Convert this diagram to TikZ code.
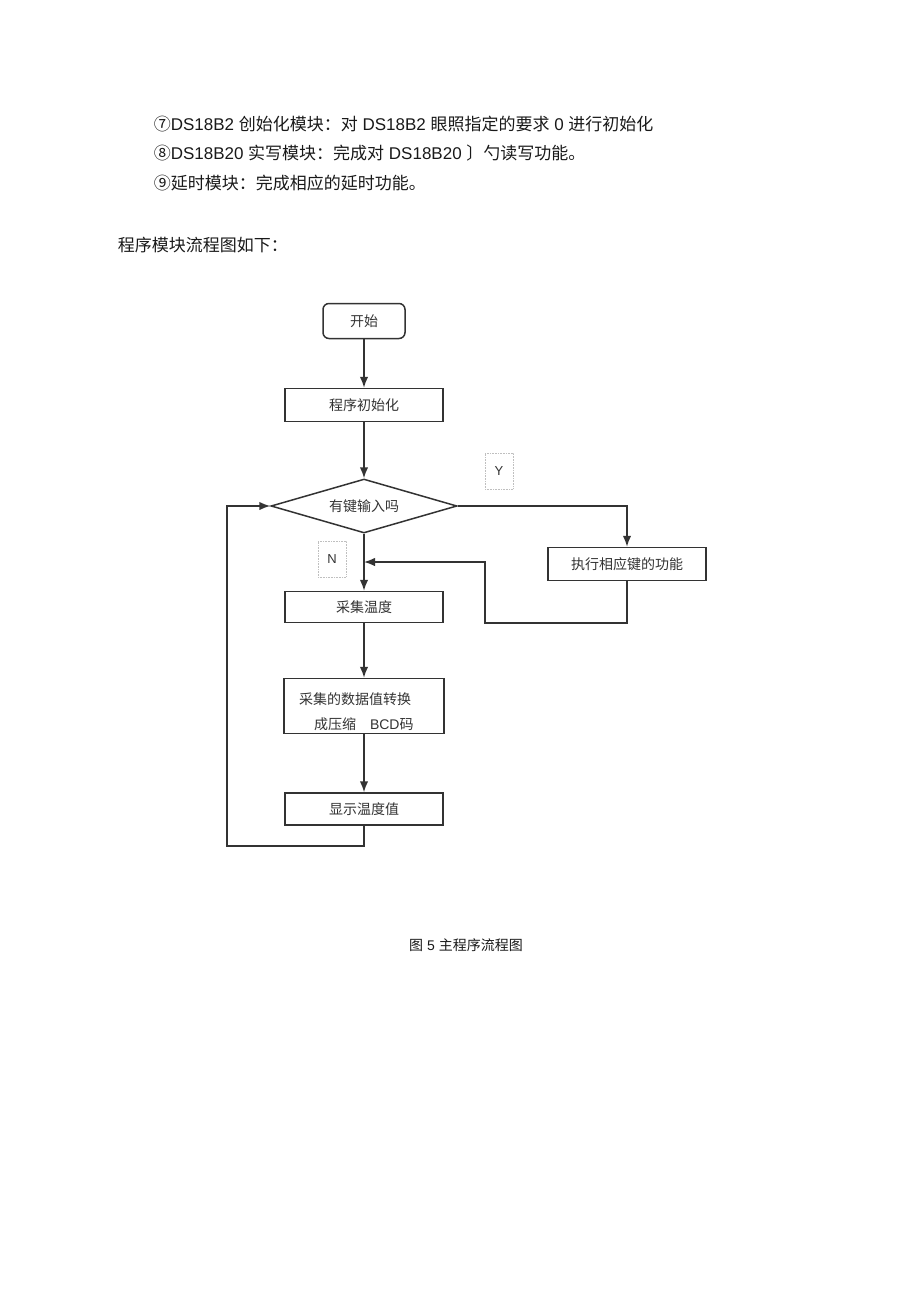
\documentclass[tikz,border=0pt]{standalone}
\usepackage{fontspec}
\setmainfont{Liberation Sans}
\newfontfamily\cjk{Noto Sans CJK SC}
\usetikzlibrary{shapes.geometric,arrows.meta}

\begin{document}
\begin{tikzpicture}[x=1pt,y=-1pt,->,>={Latex[length=11pt,width=8.5pt]},
		line width=1.5pt,color=black!80,
		main node/.style={rectangle,draw,minimum width=158pt,minimum height=33pt,inner sep=0pt,font=\fontsize{14}{16}\selectfont\cjk},
		start node/.style={main node,rounded corners=6pt,minimum width=82pt,minimum height=35pt},
		decision node/.style={diamond,draw,aspect=3.4,minimum width=186pt,minimum height=54pt,inner sep=0pt,font=\fontsize{14}{16}\selectfont\cjk},
		label node/.style={draw=black!25,densely dotted,line width=0.6pt,minimum width=28pt,minimum height=36pt,inner sep=0pt,font=\fontsize{13}{15}\selectfont},
		body text/.style={anchor=west,inner sep=0pt,text=black!90,font=\fontsize{17}{20}\selectfont}]

		\useasboundingbox (0,0) rectangle (920,1303);

		\node[body text] (l7) at (153,124) {{\cjk ⑦}DS18B2 {\cjk 创始化模块：对} DS18B2 {\cjk 眼照指定的要求} 0 {\cjk 进行初始化}};
		\node[body text] (l8) at (153,153) {{\cjk ⑧}DS18B20 {\cjk 实写模块：完成对} DS18B20 {\cjk 〕勺读写功能。}};
		\node[body text] (l9) at (153,183) {\cjk ⑨延时模块：完成相应的延时功能。};
		\node[body text] (intro) at (117,245) {\cjk 程序模块流程图如下：};

		\node[start node] (start) at (364,321) {开始};
		\node[main node] (init) at (364,405) {程序初始化};
		\node[decision node] (key) at (364,506) {有键输入吗};
		\node[label node] (y) at (499,471) {Y};
		\node[main node] (func) at (627,564) {执行相应键的功能};
		\node[label node] (n) at (332,559) {N};
		\node[main node,minimum height=31pt] (collect) at (364,607) {采集温度};
		\node[main node,minimum width=160pt,minimum height=55pt,text width=130pt,align=left,
			font=\fontsize{14}{25}\selectfont] (conv) at (364,706) {\rule{0pt}{24pt}{\cjk 采集的数据值转换}\\\hspace*{15pt}{\cjk 成压缩}\quad BCD{\cjk 码}};
		\node[main node,minimum height=32pt] (show) at (364,809) {显示温度值};

		\coordinate (ret) at (485,623);
		\coordinate (merge) at (364,562);
		\coordinate (loop) at (227,846);

		\path
		(start) edge (init)
		(init) edge (key)
		(key) edge (collect)
		(collect) edge (conv)
		(conv) edge (show);
		\draw (key.east) -| (func.north);
		\draw (func.south) |- (ret) |- (merge);
		\draw (show.south) |- (loop) |- (key.west);

		\node[inner sep=0pt,text=black!90,font=\fontsize{14}{16}\selectfont] (cap) at (466,945) {{\cjk 图} 5 {\cjk 主程序流程图}};
	\end{tikzpicture}
\end{document}
